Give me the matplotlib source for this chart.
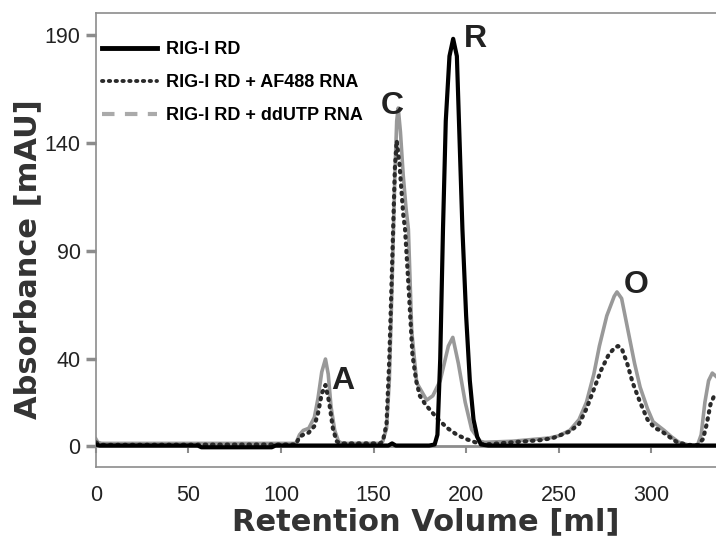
import matplotlib
matplotlib.use("Agg")
import matplotlib.pyplot as plt
from matplotlib.lines import Line2D

# RIG-I RD (solid black)
rd_x = [0, 2, 55, 57, 95, 97, 158, 160, 162, 180, 183, 184.5, 186, 187.5, 189, 191, 193, 195,
        196.5, 198, 200, 202, 204, 206, 208, 212, 335]
rd_y = [0.5, 0, 0, -0.8, -0.8, 0, 0, 1, 0, 0, 0.5, 5, 40, 100, 150, 180, 188, 180,
        140, 100, 60, 30, 12, 4, 0.5, 0, 0]

# RIG-I RD + AF488 RNA (dotted)
af_x = [0, 1, 3, 108, 110, 112, 115, 118, 120, 122, 124, 126, 128, 130, 132, 153.5, 155, 157,
        158.5, 160, 161.5, 162.5, 164, 166, 167, 169, 171, 173, 175, 178, 181, 185, 190, 195,
        200, 205, 210, 225, 240, 247, 250, 256, 261, 265, 269, 273, 277, 280, 282, 284, 287,
        290, 294, 298, 302, 305, 309, 314, 320, 325, 328, 330, 332, 334.5, 335]
af_y = [1.5, 1, 0.3, 0.5, 4, 5, 6, 9, 15, 24, 28, 20, 8, 2, 1, 1, 2, 10,
        40, 83, 128, 141, 130, 107, 100, 72, 42, 30, 23, 19, 16, 12, 8, 5,
        3, 1.5, 0.5, 1.5, 2.5, 3.5, 4.5, 6.5, 10, 17, 26, 35, 42, 45, 46, 45, 38,
        29, 20, 12, 8, 7, 4.5, 1.5, 0.3, 0.2, 3, 10, 19, 24, 24]

# RIG-I RD + ddUTP RNA (grey)
dd_x = [0, 1, 3, 108, 110, 112, 115, 118, 120, 122, 124, 125.5, 127, 129, 131, 133, 154, 155,
        157, 158.5, 160, 161.5, 162.5, 163.3, 164.5, 166, 167.5, 168.8, 170.6, 173.3, 178.7,
        182, 186, 190.4, 192.8, 195.8, 199.5, 203, 207.6, 210, 225, 245, 250, 256, 261, 265,
        269, 272, 276, 280, 281.5, 284, 287.5, 291, 294, 298, 301, 304, 307, 311, 315, 320,
        325, 327, 329, 331, 333, 335]
dd_y = [3, 1.5, 1, 1, 5, 7, 8, 13, 22, 34, 40, 33, 18, 7, 2, 1, 1, 2,
        8, 30, 75, 125, 150, 156, 145, 125, 110, 100, 53, 29, 21,
        23, 30, 46, 50, 38, 20, 7.4, 2, 1.5, 2, 3.5, 4.5, 7, 12, 20,
        33, 46, 60, 69, 71, 68, 53, 38, 27, 17, 11, 9, 7, 4, 1.5, 0.3,
        0.2, 5, 20, 30, 33.5, 32]

x_ticks = [0, 50, 100, 150, 200, 250, 300]
y_ticks = [0, 40, 90, 140, 190]

peak_labels = ["A", "C", "R", "O"]
peak_pos = [(133.5, 30), (160, 157), (205, 188), (292, 74)]

grey = "#999999"
axis_grey = "#8c8c8c"

fig = plt.figure(figsize=(7.16, 5.37), dpi=100)
ax = fig.add_axes([0.134, 0.130, 0.866, 0.846])

ax.plot(dd_x, dd_y, color=grey, lw=2.6, zorder=2)
ax.plot(af_x, af_y, color="#2a2a2a", lw=3.0, linestyle=(0, (0.35, 1.4)),
        dash_capstyle="round", zorder=3)
ax.plot(rd_x, rd_y, color="black", lw=3.0, zorder=4)

ax.set_xlim(0, 335)
ax.set_ylim(-10, 200)

ax.spines["right"].set_visible(False)
for s in ["left", "top", "bottom"]:
    ax.spines[s].set_color(axis_grey)
    ax.spines[s].set_linewidth(1.2)

ax.set_yticks(y_ticks)
ax.tick_params(axis="y", colors=axis_grey, length=7, width=2.5, labelsize=15.5,
               labelcolor="#222222", pad=4)
ax.set_xticks(x_ticks)
ax.tick_params(axis="x", length=0, labelsize=15.5, labelcolor="#222222", pad=13)
for lab in ax.get_xticklabels() + ax.get_yticklabels():
    lab.set_fontfamily("Liberation Sans")

# zero line with tick marks, like the Excel axis
zero_ax = ax.secondary_xaxis(10 / 210)
zero_ax.set_xticks(x_ticks)
zero_ax.tick_params(axis="x", length=5, width=1.5, colors=axis_grey, labelbottom=False)
zero_ax.spines["bottom"].set_color(axis_grey)
zero_ax.spines["bottom"].set_linewidth(2)

ax.set_xlabel("Retention Volume [ml]", fontsize=22, fontweight="bold", color="#333333")
ax.xaxis.set_label_coords(0.532, -0.088)
ax.set_ylabel("Absorbance [mAU]", fontsize=22, fontweight="bold", color="#333333")
ax.yaxis.set_label_coords(-0.087, 0.458)

for lab, (px, py) in zip(peak_labels, peak_pos):
    ax.text(px, py, lab, fontsize=23, fontweight="bold", color="#222222",
            family="Liberation Sans", ha="center", va="center")

handles = [
    Line2D([], [], color="black", lw=3.5),
    Line2D([], [], color="#2a2a2a", lw=2.8, linestyle=(0, (0.35, 1.4)), dash_capstyle="round"),
    Line2D([], [], color="#aaaaaa", lw=3, linestyle=(0, (3, 2.5))),
]
names = ["RIG-I RD", "RIG-I RD + AF488 RNA", "RIG-I RD + ddUTP RNA"]
ax.legend(handles, names, loc="upper left", bbox_to_anchor=(-0.01, 0.965), frameon=False,
          prop={"family": "Liberation Sans", "weight": "bold", "size": 13},
          handlelength=3.0, handletextpad=0.5, labelspacing=0.88, borderaxespad=0.3)

fig.savefig("out.png", dpi=100)
